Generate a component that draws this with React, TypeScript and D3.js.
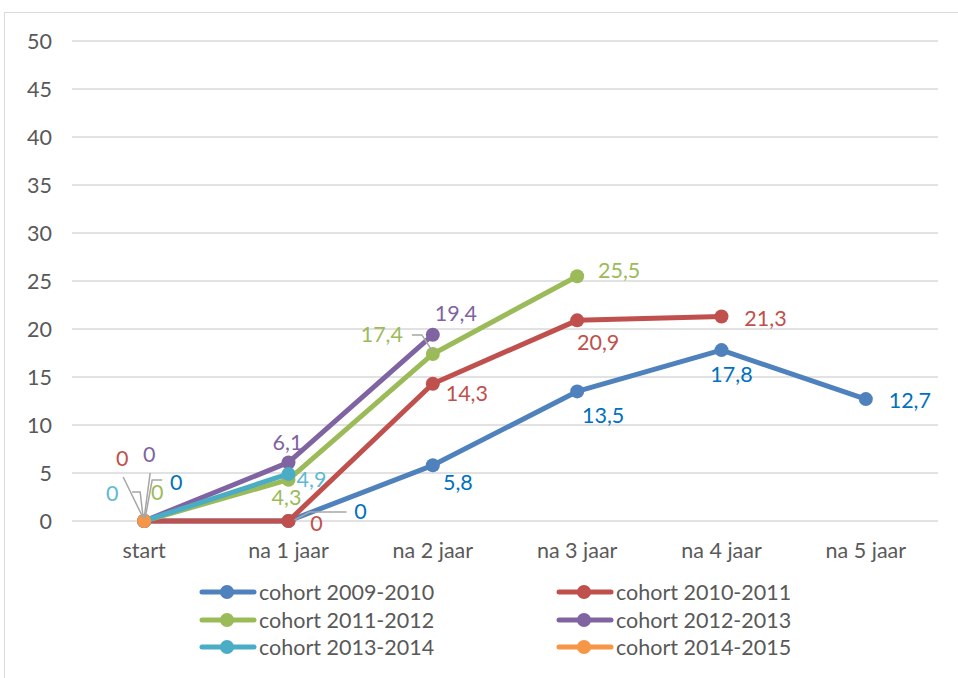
import React from "react";
import * as d3 from "d3";

const categories = ["start", "na 1 jaar", "na 2 jaar", "na 3 jaar", "na 4 jaar", "na 5 jaar"];
const seriesNames = [
  "cohort 2009-2010",
  "cohort 2010-2011",
  "cohort 2011-2012",
  "cohort 2012-2013",
  "cohort 2013-2014",
  "cohort 2014-2015",
];
const cohort20092010 = [0, 0, 5.8, 13.5, 17.8, 12.7];
const cohort20102011 = [0, 0, 14.3, 20.9, 21.3];
const cohort20112012 = [0, 4.3, 17.4, 25.5];
const cohort20122013 = [0, 6.1, 19.4];
const cohort20132014 = [0, 4.9];
const cohort20142015 = [0];
const seriesValues = [cohort20092010, cohort20102011, cohort20112012, cohort20122013, cohort20132014, cohort20142015];
const yTicks = [0, 5, 10, 15, 20, 25, 30, 35, 40, 45, 50];

// styling
const lineColors = ["#4F81BD", "#C0504D", "#9BBB59", "#8064A2", "#4BACC6", "#F79646"];
const labelColors = ["#0070C0", "#C0504D", "#9BBB59", "#8064A2", "#5DBAD3", "#F79646"];
// label offsets (dx, dy of text centre from point), null = no label
const labelOffsets: ([number, number] | null)[][] = [
  [[32, -39], [72, -10], [25, 17], [26, 24], [10, 24], [44, 1]],
  [[-22, -63], [28, 2], [34, 10], [21, 22], [44, 2]],
  [[13, -29], [-2, 18], [-51, -19], [42, -6]],
  [[5, -67], [-1, -20], [23, -21]],
  [[-32, -28], [23, 6]],
  [null],
];
// leader lines: [series, index, relative polyline points]
const leaders: [number, number, [number, number][]][] = [
  [1, 0, [[-1, -3], [-21, -44]]],
  [3, 0, [[0, -3], [6, -48]]],
  [0, 0, [[1, -3], [8, -41], [18, -41]]],
  [4, 0, [[-1, -3], [-4, -29], [-12, -29]]],
  [0, 1, [[6, -1], [21, -9], [58, -9]]],
  [2, 2, [[0, -2], [-11, -19], [-21, -19]]],
];

const W = 958;
const H = 678;
const FONT = "Lato, 'Noto Sans', sans-serif";
const FS = 21.5;

export default function App() {
  const x = d3.scaleBand<string>().domain(categories).range([72, 938]).paddingInner(0).paddingOuter(0);
  const cx = (i: number) => (x(categories[i]) as number) + x.bandwidth() / 2;
  const y = d3.scaleLinear().domain([0, 50]).range([521, 41]);
  const line = d3
    .line<number>()
    .x((_, i) => cx(i))
    .y((d) => y(d));

  const legendPos = [
    [202, 592],
    [559, 592],
    [202, 620],
    [559, 620],
    [202, 647],
    [559, 647],
  ];

  return (
    <svg
      width={W}
      height={H}
      style={{ position: "absolute", left: 0, top: 0, background: "#fff" }}
      fontFamily={FONT}
    >
      <rect x={4.5} y={12.5} width={1000} height={1000} fill="#fff" stroke="#d9d9d9" strokeWidth={1} />
      {yTicks.map((t) => (
        <g key={t}>
          <line x1={72} x2={938} y1={y(t)} y2={y(t)} stroke="#d9d9d9" strokeWidth={1.5} />
          <text x={52} y={y(t) + 7.5} textAnchor="end" fontSize={FS} fill="#595959">
            {t}
          </text>
        </g>
      ))}
      {categories.map((c, i) => (
        <text key={c} x={cx(i)} y={558} textAnchor="middle" fontSize={FS} fill="#595959">
          {c}
        </text>
      ))}
      {seriesValues.map((vals, s) => (
        <g key={s}>
          <path d={line(vals) || ""} fill="none" stroke={lineColors[s]} strokeWidth={5} strokeLinejoin="round" strokeLinecap="round" />
          {vals.map((v, i) => (
            <circle key={i} cx={cx(i)} cy={y(v)} r={7} fill={lineColors[s]} />
          ))}
        </g>
      ))}
      {leaders.map(([s, i, pts], k) => {
        const px = cx(i);
        const py = y(seriesValues[s][i]);
        const d = d3.line()(pts.map(([dx, dy]) => [px + dx, py + dy] as [number, number]));
        return <path key={k} d={d || ""} fill="none" stroke="#a6a6a6" strokeWidth={1.5} />;
      })}
      {seriesValues.map((vals, s) =>
        vals.map((v, i) => {
          const off = labelOffsets[s][i];
          if (!off) return null;
          return (
            <text
              key={`${s}-${i}`}
              x={cx(i) + off[0]}
              y={y(v) + off[1] + 7.5}
              textAnchor="middle"
              fontSize={FS}
              fill={labelColors[s]}
            >
              {String(v).replace(".", ",")}
            </text>
          );
        })
      )}
      {seriesNames.map((n, s) => {
        const [lx, ly] = legendPos[s];
        return (
          <g key={n}>
            <line x1={lx} x2={lx + 52} y1={ly} y2={ly} stroke={lineColors[s]} strokeWidth={5} strokeLinecap="round" />
            <circle cx={lx + 25} cy={ly} r={7} fill={lineColors[s]} />
            <text x={lx + 57} y={ly + 7.5} fontSize={FS} fill="#595959">
              {n}
            </text>
          </g>
        );
      })}
    </svg>
  );
}
